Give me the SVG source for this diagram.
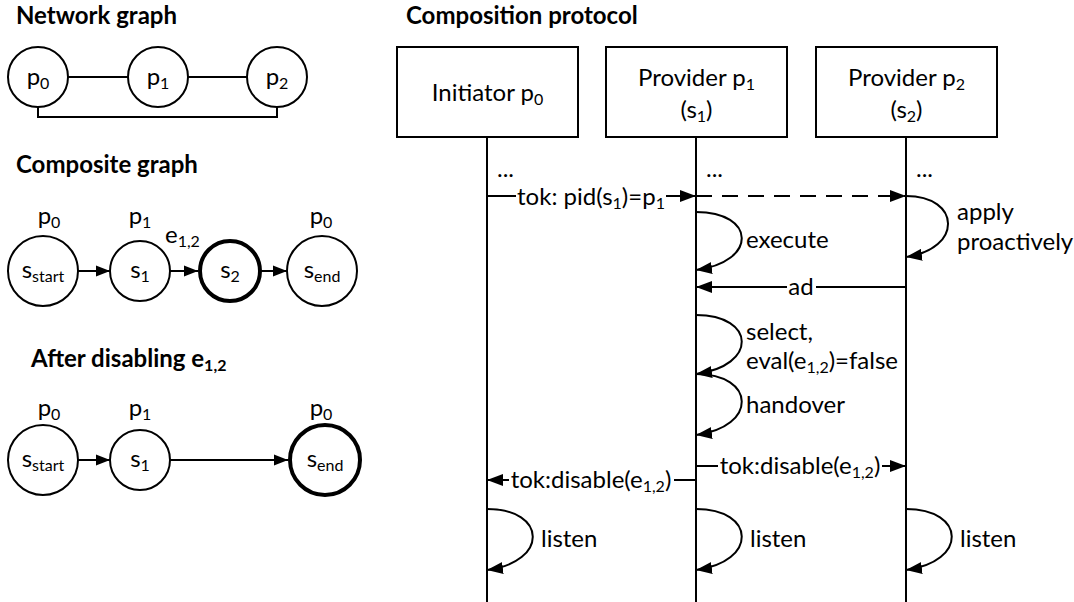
<svg xmlns="http://www.w3.org/2000/svg" width="1074" height="602" viewBox="0 0 1074 602">
  <style>
    text { font-family: Lato, "Liberation Sans", sans-serif; font-size: 24px; fill: #000; }
    .title { font-weight: bold; }
    .mid { text-anchor: middle; }
    .sub { font-size: 16px; }
    .node { fill: #fff; stroke: #000; stroke-width: 2; }
    .thick { stroke-width: 4; }
    .edge { fill: none; stroke: #000; stroke-width: 2; }
    .dash { stroke-dasharray: 16 10; }
    .life { fill: none; stroke: #000; stroke-width: 2; }
  </style>
  <defs>
    <marker id="tri" markerUnits="userSpaceOnUse" markerWidth="16" markerHeight="12" refX="16" refY="6" orient="auto">
      <path d="M0,0 L16,6 L0,12 z" fill="#000"/>
    </marker>
    <marker id="tri-s" markerUnits="userSpaceOnUse" markerWidth="14" markerHeight="12" refX="14" refY="6" orient="auto">
      <path d="M0,0.5 L14,6 L0,11.5 z" fill="#000"/>
    </marker>
  </defs>

  <!-- ===== Network graph ===== -->
  <text class="title" x="16" y="24">Network graph</text>
  <g id="net-edges">
    <path class="edge" d="M68,77 H128 M188,77 H247 M38,107 V117 H277 V107"/>
  </g>
  <g id="net-p0">
    <circle class="node" cx="38" cy="77" r="30"/>
    <text class="mid" x="38" y="85">p<tspan class="sub" dy="4">0</tspan></text>
  </g>
  <g id="net-p1">
    <circle class="node" cx="158" cy="77" r="30"/>
    <text class="mid" x="158" y="85">p<tspan class="sub" dy="4">1</tspan></text>
  </g>
  <g id="net-p2">
    <circle class="node" cx="277" cy="77" r="30"/>
    <text class="mid" x="277" y="85">p<tspan class="sub" dy="4">2</tspan></text>
  </g>

  <!-- ===== Composite graph ===== -->
  <text class="title" x="16" y="173">Composite graph</text>
  <g id="comp-edges">
    <path class="edge" d="M78,271 H110" marker-end="url(#tri-s)"/>
    <path class="edge" d="M170,271 H198" marker-end="url(#tri-s)"/>
    <path class="edge" d="M260,271 H287" marker-end="url(#tri-s)"/>
    <text x="165" y="243">e<tspan class="sub" dy="4">1,2</tspan></text>
  </g>
  <g id="comp-start">
    <text class="mid" x="49" y="224">p<tspan class="sub" dy="4">0</tspan></text>
    <circle class="node" cx="43" cy="271" r="35"/>
    <text class="mid" x="43" y="278">s<tspan class="sub" dy="4">start</tspan></text>
  </g>
  <g id="comp-s1">
    <text class="mid" x="140" y="224">p<tspan class="sub" dy="4">1</tspan></text>
    <circle class="node" cx="140" cy="271" r="30"/>
    <text class="mid" x="140" y="278">s<tspan class="sub" dy="4">1</tspan></text>
  </g>
  <g id="comp-s2">
    <circle class="node thick" cx="230" cy="271" r="30"/>
    <text class="mid" x="230" y="278">s<tspan class="sub" dy="4">2</tspan></text>
  </g>
  <g id="comp-end">
    <text class="mid" x="321" y="224">p<tspan class="sub" dy="4">0</tspan></text>
    <circle class="node" cx="322" cy="271" r="35"/>
    <text class="mid" x="322" y="278">s<tspan class="sub" dy="4">end</tspan></text>
  </g>

  <!-- ===== After disabling e1,2 ===== -->
  <text class="title" x="31" y="367">After disabling e<tspan class="sub" dy="4">1,2</tspan></text>
  <g id="after-edges">
    <path class="edge" d="M78,460 H110" marker-end="url(#tri-s)"/>
    <path class="edge" d="M170,460 H288" marker-end="url(#tri-s)"/>
  </g>
  <g id="after-start">
    <text class="mid" x="49" y="416">p<tspan class="sub" dy="4">0</tspan></text>
    <circle class="node" cx="43" cy="460" r="35"/>
    <text class="mid" x="43" y="467">s<tspan class="sub" dy="4">start</tspan></text>
  </g>
  <g id="after-s1">
    <text class="mid" x="140" y="416">p<tspan class="sub" dy="4">1</tspan></text>
    <circle class="node" cx="140" cy="460" r="30"/>
    <text class="mid" x="140" y="467">s<tspan class="sub" dy="4">1</tspan></text>
  </g>
  <g id="after-end">
    <text class="mid" x="321" y="416">p<tspan class="sub" dy="4">0</tspan></text>
    <circle class="node thick" cx="325" cy="460" r="35"/>
    <text class="mid" x="325" y="467">s<tspan class="sub" dy="4">end</tspan></text>
  </g>

  <!-- ===== Composition protocol ===== -->
  <text class="title" x="406" y="24">Composition protocol</text>

  <g id="initiator-p0">
    <rect class="node" x="397" y="47" width="181" height="90"/>
    <text class="mid" x="487.5" y="101">Initiator p<tspan class="sub" dy="4">0</tspan></text>
  </g>
  <g id="provider-p1">
    <rect class="node" x="606" y="47" width="181" height="90"/>
    <text class="mid" x="696.5" y="86">Provider p<tspan class="sub" dy="4">1</tspan></text>
    <text class="mid" x="696.5" y="118">(s<tspan class="sub" dy="4">1</tspan><tspan dy="-4">)</tspan></text>
  </g>
  <g id="provider-p2">
    <rect class="node" x="816" y="47" width="181" height="90"/>
    <text class="mid" x="906.5" y="86">Provider p<tspan class="sub" dy="4">2</tspan></text>
    <text class="mid" x="906.5" y="118">(s<tspan class="sub" dy="4">2</tspan><tspan dy="-4">)</tspan></text>
  </g>

  <g id="lifelines">
    <path class="life" d="M487,137 V602 M696,137 V602 M906,137 V602"/>
    <text x="497" y="177">...</text>
    <text x="706" y="177">...</text>
    <text x="916" y="177">...</text>
  </g>

  <g id="messages">
    <!-- token to provider p1, forwarded speculatively to p2 -->
    <path class="edge" d="M487,196 H516"/>
    <path class="edge" d="M666,196 H696" marker-end="url(#tri)"/>
    <text class="mid" x="591" y="205">tok: pid(s<tspan class="sub" dy="4">1</tspan><tspan dy="-4">)=p</tspan><tspan class="sub" dy="4">1</tspan></text>
    <path class="edge dash" d="M696,196 H906" marker-end="url(#tri)"/>

    <!-- p2 applies proactively -->
    <path class="edge" d="M906,196 C961,196 963,249 906,257" marker-end="url(#tri)"/>
    <text x="957" y="220">apply</text>
    <text x="957" y="250">proactively</text>

    <!-- p1 executes -->
    <path class="edge" d="M696,212 C756,212 758,262 696,270" marker-end="url(#tri)"/>
    <text x="746" y="248">execute</text>

    <!-- advertisement from p2 -->
    <path class="edge" d="M906,287 H816"/>
    <path class="edge" d="M787,287 H696" marker-end="url(#tri)"/>
    <text class="mid" x="801" y="295">ad</text>

    <!-- select / evaluate -->
    <path class="edge" d="M696,315 C756,315 758,366 696,374" marker-end="url(#tri)"/>
    <text x="746" y="340">select,</text>
    <text x="746" y="369">eval(e<tspan class="sub" dy="4">1,2</tspan><tspan dy="-4">)=false</tspan></text>

    <!-- handover -->
    <path class="edge" d="M696,374 C756,374 758,427 696,435" marker-end="url(#tri)"/>
    <text x="746" y="413">handover</text>

    <!-- disable token to p2 -->
    <path class="edge" d="M696,466 H718"/>
    <path class="edge" d="M882,466 H906" marker-end="url(#tri)"/>
    <text class="mid" x="800" y="474">tok:disable(e<tspan class="sub" dy="4">1,2</tspan><tspan dy="-4">)</tspan></text>

    <!-- disable token to p0 -->
    <path class="edge" d="M696,480 H674"/>
    <path class="edge" d="M509,480 H487" marker-end="url(#tri)"/>
    <text class="mid" x="591" y="488">tok:disable(e<tspan class="sub" dy="4">1,2</tspan><tspan dy="-4">)</tspan></text>

    <!-- everyone listens -->
    <path class="edge" d="M487,509 C547,509 549,562 487,570" marker-end="url(#tri)"/>
    <text x="541" y="547">listen</text>
    <path class="edge" d="M696,509 C756,509 758,562 696,570" marker-end="url(#tri)"/>
    <text x="750" y="547">listen</text>
    <path class="edge" d="M906,509 C966,509 968,562 906,570" marker-end="url(#tri)"/>
    <text x="960" y="547">listen</text>
  </g>
</svg>
